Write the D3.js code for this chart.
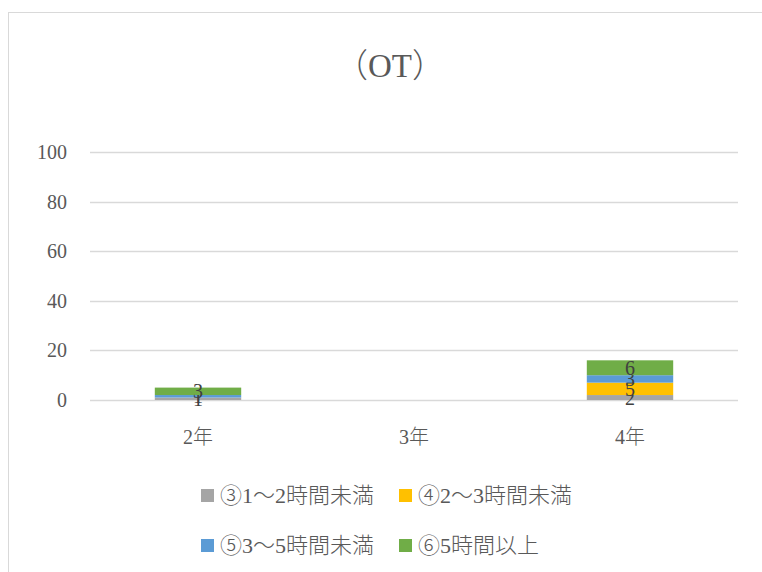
<!DOCTYPE html>
<html>
<head>
<meta charset="utf-8">
<script src="https://cdn.jsdelivr.net/npm/d3@7"></script>
<style>
  body { margin: 0; background: #fff; }
  text { font-family: "Liberation Serif", "DejaVu Serif", serif; fill: #595959; }
  .latin { font-family: "Liberation Serif", "DejaVu Serif", serif; }
  .cjk { font-family: "Noto Sans CJK JP", sans-serif; font-weight: 300; }
</style>
</head>
<body>
<div id="chart"></div>
<script>
// Data
const categories = ['2年', '3年', '4年'];
const seriesNames = ['③1～2時間未満', '④2～3時間未満', '⑤3～5時間未満', '⑥5時間以上'];
const seriesColors = ['#a5a5a5', '#ffc000', '#5b9bd5', '#70ad47'];
const s3 = [1, 0, 2];
const s4 = [0, 0, 5];
const s5 = [1, 0, 3];
const s6 = [3, 0, 6];
const yTicks = [0, 20, 40, 60, 80, 100];

const W = 762, H = 572;
const svg = d3.select('#chart').append('svg')
    .attr('width', W)
    .attr('height', H);

// split a string into latin / cjk runs so latin keeps the serif face
function mixedText(sel, str) {
    const runs = str.match(/[\x00-\x7f]+|[^\x00-\x7f]+/g) || [];
    runs.forEach(r => {
        sel.append('tspan')
            .attr('class', /^[\x00-\x7f]/.test(r) ? 'latin' : 'cjk')
            .text(r);
    });
}

// Outer chart border
svg.append('rect')
    .attr('x', 8.5).attr('y', 12.5)
    .attr('width', 800).attr('height', 600)
    .attr('fill', 'none')
    .attr('stroke', '#d9d9d9');

// Title
const title = svg.append('text')
    .attr('x', 390).attr('y', 77)
    .attr('text-anchor', 'middle')
    .style('font-size', '33px');
mixedText(title, '（OT）');

const plot = {left: 90, right: 738, top: 152, bottom: 400};

const x = d3.scaleBand()
    .domain(categories)
    .range([plot.left, plot.right])
    .paddingInner(0.6)
    .paddingOuter(0.3);

const y = d3.scaleLinear()
    .domain([0, 100])
    .range([plot.bottom, plot.top]);

// Gridlines
svg.append('g')
    .selectAll('line')
    .data(yTicks)
    .enter().append('line')
    .attr('x1', plot.left).attr('x2', plot.right)
    .attr('y1', d => Math.round(y(d)) + 0.5)
    .attr('y2', d => Math.round(y(d)) + 0.5)
    .attr('stroke', '#d9d9d9')
    .attr('stroke-width', 1.5);

// Y tick labels
svg.append('g')
    .selectAll('text')
    .data(yTicks)
    .enter().append('text')
    .attr('x', 67)
    .attr('y', d => y(d) + 7)
    .attr('text-anchor', 'end')
    .style('font-size', '20px')
    .text(d => d);

// X labels
svg.append('g')
    .selectAll('text')
    .data(categories)
    .enter().append('text')
    .attr('x', d => x(d) + x.bandwidth() / 2)
    .attr('y', 444)
    .attr('text-anchor', 'middle')
    .style('font-size', '20px')
    .each(function(d) { mixedText(d3.select(this), d); });

// Stack
const table = categories.map((c, i) => ({
    cat: c,
    s0: s3[i], s1: s4[i], s2: s5[i], s3: s6[i]
}));
const stack = d3.stack().keys(['s0', 's1', 's2', 's3'])(table);

const layers = svg.append('g')
    .selectAll('g')
    .data(stack)
    .enter().append('g')
    .attr('fill', (d, i) => seriesColors[i]);

layers.selectAll('rect')
    .data(d => d)
    .enter().append('rect')
    .attr('x', d => x(d.data.cat))
    .attr('width', x.bandwidth())
    .attr('y', d => y(d[1]))
    .attr('height', d => y(d[0]) - y(d[1]));

// Data labels (Excel places them at segment centres, so small ones overlap)
layers.selectAll('text')
    .data(d => d.filter(v => v[1] - v[0] > 0))
    .enter().append('text')
    .attr('x', d => x(d.data.cat) + x.bandwidth() / 2)
    .attr('y', d => (y(d[0]) + y(d[1])) / 2 + 7)
    .attr('text-anchor', 'middle')
    .style('font-size', '20px')
    .style('fill', '#404040')
    .text(d => d[1] - d[0]);

// Legend
const legendPos = [[201, 495], [399, 495], [201, 545], [399, 545]];
const legend = svg.append('g')
    .selectAll('g')
    .data(seriesNames)
    .enter().append('g')
    .attr('transform', (d, i) => `translate(${legendPos[i][0]},${legendPos[i][1]})`);

legend.append('rect')
    .attr('x', 0).attr('y', -6)
    .attr('width', 13).attr('height', 13)
    .attr('fill', (d, i) => seriesColors[i]);

legend.append('text')
    .attr('x', 19).attr('y', 8)
    .style('font-size', '22px')
    .each(function(d) { mixedText(d3.select(this), d); });
</script>
</body>
</html>
